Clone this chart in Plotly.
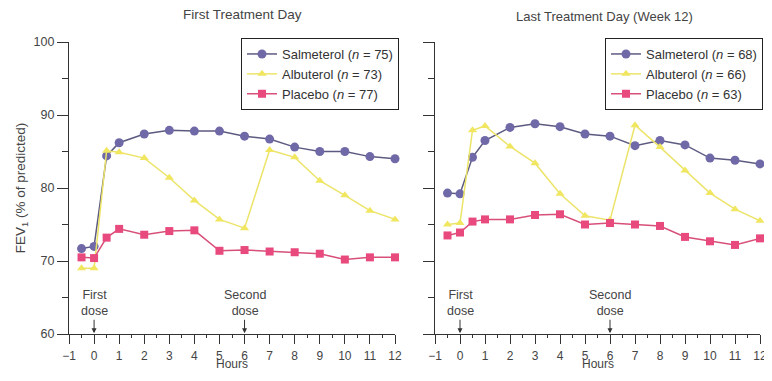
import plotly.graph_objects as go

hours = [-0.5, 0, 0.5, 1, 2, 3, 4, 5, 6, 7, 8, 9, 10, 11, 12]

# First Treatment Day
salm_first = [71.7, 72.0, 84.4, 86.2, 87.4, 87.9, 87.8, 87.8, 87.1, 86.7, 85.6, 85.0, 85.0, 84.3, 84.0]
albu_first = [69.0, 69.0, 85.1, 84.9, 84.1, 81.4, 78.3, 75.7, 74.5, 85.2, 84.2, 81.0, 79.0, 76.9, 75.7]
plac_first = [70.5, 70.4, 73.2, 74.4, 73.6, 74.1, 74.2, 71.4, 71.5, 71.3, 71.2, 71.0, 70.2, 70.5, 70.5]

# Last Treatment Day (Week 12)
salm_last = [79.3, 79.2, 84.2, 86.5, 88.3, 88.8, 88.4, 87.4, 87.1, 85.8, 86.5, 85.9, 84.1, 83.8, 83.3]
albu_last = [75.0, 75.2, 87.9, 88.5, 85.7, 83.4, 79.2, 76.2, 75.6, 88.6, 85.6, 82.4, 79.3, 77.1, 75.5]
plac_last = [73.5, 73.9, 75.4, 75.7, 75.7, 76.3, 76.4, 75.0, 75.2, 75.0, 74.8, 73.3, 72.7, 72.2, 73.1]

names_first = ["Salmeterol (<i>n</i> = 75)", "Albuterol (<i>n</i> = 73)", "Placebo (<i>n</i> = 77)"]
names_last = ["Salmeterol (<i>n</i> = 68)", "Albuterol (<i>n</i> = 66)", "Placebo (<i>n</i> = 63)"]

x_ticks = list(range(-1, 13))
y_ticks = [60, 70, 80, 90, 100]

styles = [
    dict(line=dict(color="#5c5a80", width=1.5), marker=dict(symbol="circle", size=9, color="#7069a8")),
    dict(line=dict(color="#ece46a", width=1.5), marker=dict(symbol="triangle-up", size=8, color="#f0e660")),
    dict(line=dict(color="#d8507a", width=1.5), marker=dict(symbol="square", size=8, color="#e84a7e")),
]

FONT = "Liberation Sans, Arial, Helvetica, sans-serif"
fig = go.Figure()

for series, name, st in zip([salm_first, albu_first, plac_first], names_first, styles):
    fig.add_trace(go.Scatter(x=hours, y=series, name=name, mode="lines+markers", cliponaxis=False,
                             xaxis="x", yaxis="y", legend="legend", **st))
for series, name, st in zip([salm_last, albu_last, plac_last], names_last, styles):
    fig.add_trace(go.Scatter(x=hours, y=series, name=name, mode="lines+markers", cliponaxis=False,
                             xaxis="x2", yaxis="y2", legend="legend2", **st))

# page has an 8px body margin on every side; size the figure so the page fits the window exactly
OFF = 8
W, H = 772 - 2 * OFF, 381 - 2 * OFF
L = 69 - OFF
R = W - (760 - OFF)
T = 42 - OFF
B = H - (334 - OFF)
pw = W - L - R
ph = H - T - B


def px(xp):
    return (xp - OFF - L) / pw


def py(yp):
    return (H - B - (yp - OFF)) / ph


left_dom = [0, px(395)]
right_dom = [px(435), 1]

xcommon = dict(range=[-1, 12], tickvals=x_ticks, ticks="outside", ticklen=9, tickwidth=1,
               tickcolor="#333", showline=True, linecolor="#333", linewidth=1.2,
               showgrid=False, zeroline=False, ticklabeloverflow="allow", ticklabelstandoff=1,
               automargin=False,
               tickfont=dict(family=FONT, size=12, color="#444"),
               minor=dict(dtick=0.5, tick0=-0.5, ticks="outside", ticklen=3, tickcolor="#333"))
ycommon = dict(range=[60, 100], tickvals=y_ticks, ticks="outside", ticklen=11, tickwidth=1,
               tickcolor="#333", showline=True, linecolor="#333", linewidth=1.2,
               showgrid=False, zeroline=False, automargin=False,
               tickfont=dict(family=FONT, size=12.5, color="#444"),
               minor=dict(dtick=5, ticks="outside", ticklen=6, tickcolor="#333"))

legend_common = dict(xanchor="right", y=py(38), yanchor="top",
                     bordercolor="#222", borderwidth=1, bgcolor="white",
                     font=dict(family=FONT, size=13, color="#333"), tracegroupgap=0,
                     itemwidth=30)

fig.update_layout(
    width=W, height=H,
    margin=dict(l=L, r=R, t=T, b=B, autoexpand=False),
    paper_bgcolor="white", plot_bgcolor="white",
    font=dict(family=FONT, color="#333"),
    xaxis=dict(domain=left_dom, anchor="y", **xcommon),
    yaxis=dict(domain=[0, 1], anchor="x",
               title=dict(text="FEV<sub>1</sub> (% of predicted)",
                          font=dict(family=FONT, size=13.5, color="#444"), standoff=4),
               **ycommon),
    xaxis2=dict(domain=right_dom, anchor="y2", **xcommon),
    yaxis2=dict(domain=[0, 1], anchor="x2", showticklabels=False, **ycommon),
    legend=dict(x=px(399), **legend_common),
    legend2=dict(x=px(763), **legend_common),
)

fig.add_annotation(text="First Treatment Day", x=px(242), xref="paper", xanchor="center",
                   y=py(15), yref="paper", yanchor="middle", showarrow=False,
                   font=dict(family=FONT, size=13.5, color="#444"))
fig.add_annotation(text="Last Treatment Day (Week 12)", x=px(604), xref="paper", xanchor="center",
                   y=py(17), yref="paper", yanchor="middle", showarrow=False,
                   font=dict(family=FONT, size=13, color="#444"))

# x-axis titles, kept fully inside the figure at its bottom edge
for dom in (left_dom, right_dom):
    fig.add_annotation(text="Hours", x=(dom[0] + dom[1]) / 2, xref="paper", xanchor="center",
                       y=-B / ph, yref="paper", yanchor="bottom", showarrow=False,
                       font=dict(family=FONT, size=12, color="#444"))

for xr, yr, xv, lab in [("x", "y", 0, "First<br>dose"), ("x", "y", 6, "Second<br>dose"),
                        ("x2", "y2", 0, "First<br>dose"), ("x2", "y2", 6, "Second<br>dose")]:
    fig.add_annotation(text=lab, x=xv, y=60.1, xref=xr, yref=yr, ax=0, ay=-30,
                       showarrow=True, arrowhead=2, arrowsize=1, arrowwidth=1, arrowcolor="#333",
                       font=dict(family=FONT, size=12.5, color="#444"))

fig.write_html("out.html")
